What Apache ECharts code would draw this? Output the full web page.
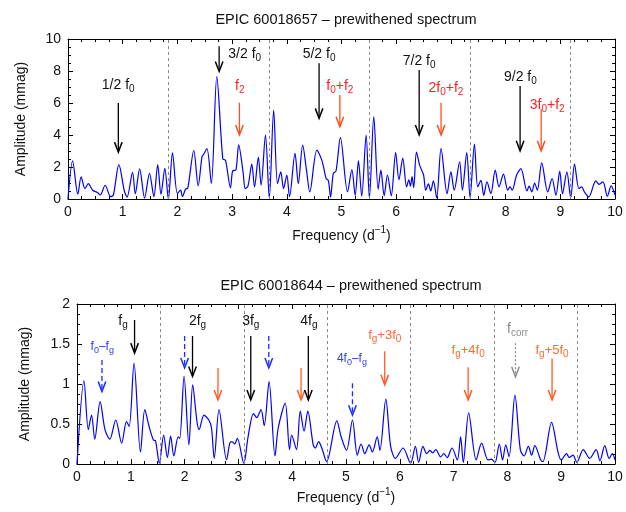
<!DOCTYPE html>
<html><head><meta charset="utf-8">
<script src="https://cdn.jsdelivr.net/npm/echarts@6/dist/echarts.min.js"></script>
<style>html,body{margin:0;padding:0;background:#fff}#c{width:626px;height:512px}</style>
</head><body><div id="c"></div>
<script>
// ---- data: upper panel (EPIC 60018657) ----
const topFreq = [0,0.084,0.18,0.24,0.31,0.37,0.45,0.54,0.59,0.68,0.78,0.83,0.93,1.03,1.08,1.18,1.23,1.31,1.40,1.49,1.57,1.64,1.70,1.77,1.835,1.91,2.00,2.06,2.09,2.15,2.19,2.30,2.38,2.45,2.48,2.54,2.62,2.72,2.83,2.88,2.97,3.01,3.07,3.12,3.20,3.24,3.29,3.36,3.41,3.48,3.53,3.61,3.68,3.76,3.83,3.89,3.94,4.00,4.05,4.15,4.21,4.29,4.36,4.42,4.55,4.64,4.72,4.76,4.80,4.85,4.90,4.98,5.11,5.19,5.25,5.31,5.37,5.45,5.51,5.59,5.67,5.72,5.78,5.84,5.91,5.99,6.05,6.12,6.19,6.23,6.26,6.29,6.32,6.37,6.43,6.50,6.54,6.59,6.63,6.68,6.74,6.82,6.93,7.00,7.06,7.16,7.21,7.29,7.35,7.43,7.49,7.55,7.60,7.66,7.73,7.81,7.88,7.96,8.04,8.08,8.12,8.20,8.28,8.39,8.43,8.48,8.53,8.58,8.66,8.77,8.85,8.92,8.99,9.04,9.12,9.19,9.26,9.34,9.39,9.44,9.52,9.65,9.71,9.78,9.86,9.93,10.0];
const topAmp  = [0,2.38,0.30,1.38,0.65,0.96,0.55,0.40,0.25,0.86,0.15,0.25,2.15,0.50,0.12,1.67,0.33,1.88,0.06,1.60,0.15,2.15,0.30,1.92,0.0,2.88,0.35,0.55,0.15,0.62,0.68,3.03,0.82,2.65,2.80,3.15,0.96,7.65,2.50,2.42,0.70,1.75,1.82,3.38,1.70,0.65,0.80,2.18,0.75,2.62,0.86,4.00,0.05,5.55,0.96,1.69,0.65,1.49,0.15,2.85,0.96,3.37,1.80,0.44,3.05,2.43,1.28,1.15,0.12,1.59,1.75,3.85,0.44,1.84,0.23,2.38,0.17,4.00,0.05,5.15,0.60,1.80,0.20,1.50,0.20,2.90,1.20,2.55,0.75,1.20,0.80,1.40,0.70,2.93,2.10,1.50,0.55,0.95,0.50,1.13,0.08,3.16,0.33,1.69,0.55,2.32,0.55,2.90,0.10,3.43,0.76,1.17,0.23,1.07,0.33,1.80,0.76,1.55,0.55,0.76,0.55,1.49,1.90,0.50,0.80,0.45,1.00,0.55,2.26,0.44,1.28,0.23,1.74,0.33,1.70,0.08,2.18,0.65,0.76,0.45,0.13,1.13,0.92,1.07,0.17,0.82,0.25];
const topHarmonics = [1.838, 3.676, 5.514, 7.352, 9.19];
// arrows: [freq, start amplitude, tip amplitude, kind]
const topArrows = [
  [0.92, 6.0, 2.93, 'k'], [2.763, 9.54, 7.97, 'k'], [3.134, 6.02, 4.0, 'r'],
  [4.59, 8.49, 5.04, 'k'], [4.97, 6.5, 4.52, 'r'], [6.42, 8.07, 4.0, 'k'],
  [6.82, 6.02, 4.0, 'r'], [8.265, 7.07, 3.01, 'k'], [8.65, 5.61, 3.01, 'r']
];
// labels: [freq, amplitude, rich text, kind]
const topLabels = [
  [0.918, 7.03, '{m|1/2 f}{s|0}', 'k'], [3.23, 9.01, '{m|3/2 f}{s|0}', 'k'],
  [3.14, 6.99, '{m|f}{s|2}', 'r'], [4.59, 9.01, '{m|5/2 f}{s|0}', 'k'],
  [4.97, 6.99, '{m|f}{s|0}{m|+f}{s|2}', 'r'], [6.42, 8.56, '{m|7/2 f}{s|0}', 'k'],
  [6.91, 6.86, '{m|2f}{s|0}{m|+f}{s|2}', 'r'], [8.27, 7.53, '{m|9/2 f}{s|0}', 'k'],
  [8.76, 5.82, '{m|3f}{s|0}{m|+f}{s|2}', 'r']
];
// ---- data: lower panel (EPIC 60018644) ----
const botFreq = [0,0.13,0.21,0.27,0.33,0.43,0.52,0.61,0.72,0.83,0.92,0.97,1.06,1.18,1.26,1.34,1.42,1.46,1.53,1.61,1.68,1.74,1.80,1.88,1.91,1.99,2.08,2.15,2.23,2.27,2.36,2.45,2.50,2.55,2.64,2.78,2.84,2.88,2.93,2.98,3.10,3.18,3.28,3.34,3.42,3.48,3.57,3.68,3.74,3.87,3.95,3.99,4.08,4.15,4.22,4.29,4.39,4.43,4.49,4.55,4.64,4.83,4.91,5.01,5.12,5.21,5.28,5.35,5.43,5.49,5.58,5.63,5.74,5.83,5.92,6.06,6.20,6.29,6.35,6.43,6.50,6.56,6.61,6.67,6.76,6.82,6.88,6.97,7.07,7.13,7.18,7.28,7.42,7.52,7.64,7.70,7.77,7.85,7.91,7.97,8.03,8.14,8.24,8.31,8.39,8.45,8.51,8.62,8.66,8.82,8.94,9.00,9.10,9.15,9.22,9.29,9.41,9.53,9.65,9.72,9.81,9.89,9.95,10.0];
const botAmp  = [0,1.04,0.43,0.61,0.31,0.78,0.43,0.31,0.55,0.26,0.53,0.47,1.26,0.15,0.68,0.47,0.30,0.29,0.01,0.36,0.08,0.35,0.10,0.34,0.32,1.10,0.24,0.99,0.53,0.43,0.61,0.55,0.45,0.07,0.68,0.05,0.26,0.28,0.25,0.32,0.01,0.34,0.63,0.58,0.68,0.48,1.03,0.10,0.45,0.76,0.18,0.36,0.18,0.66,0.41,0.66,0.24,0.20,0.28,0.20,0.03,0.54,0.34,0.17,0.55,0.11,0.25,0.13,0.24,0.15,0.34,0.17,0.81,0.22,0.07,0.20,0.01,0.22,0.02,0.22,0.13,0.17,0.14,0.18,0.09,0.13,0.08,0.20,0.05,0.34,0.02,0.64,0.05,0.26,0.05,0.06,0.02,0.25,0.05,0.24,0.09,0.86,0.18,0.10,0.22,0.11,0.23,0.05,0.03,0.52,0.15,0.05,0.13,0.08,0.11,0.02,0.18,0.07,0.18,0.04,0.23,0.07,0.13,0.05];
const botHarmonics = [1.55, 3.10, 4.65, 6.20, 7.75, 9.30];
const botArrows = [
  [0.464, 1.30, 0.906, 'b'], [1.07, 1.80, 1.386, 'k'], [2.0, 1.60, 1.20, 'b'],
  [2.147, 1.60, 1.094, 'k'], [2.62, 1.20, 0.80, 'o'], [3.23, 1.60, 0.80, 'k'],
  [3.565, 1.60, 1.20, 'b'], [4.165, 1.20, 0.80, 'o'], [4.30, 1.60, 0.80, 'k'],
  [5.12, 1.01, 0.61, 'b'], [5.72, 1.41, 0.99, 'o'], [7.27, 1.21, 0.80, 'o'],
  [8.15, 1.51, 1.09, 'g'], [8.83, 1.32, 0.80, 'o']
];
const botLabels = [
  [0.47, 1.45, '{m|f}{s|0}{m|\u2013f}{s|g}', 'b'], [0.856, 1.77, '{m|f}{s|g}', 'k'],
  [2.24, 1.77, '{m|2f}{s|g}', 'k'], [3.23, 1.77, '{m|3f}{s|g}', 'k'],
  [4.31, 1.77, '{m|4f}{s|g}', 'k'], [5.11, 1.30, '{m|4f}{s|0}{m|\u2013f}{s|g}', 'b'],
  [5.72, 1.60, '{m|f}{s|g}{m|+3f}{s|0}', 'o'], [7.27, 1.41, '{m|f}{s|g}{m|+4f}{s|0}', 'o'],
  [8.19, 1.67, '{m|f}{s|corr}', 'g'], [8.83, 1.41, '{m|f}{s|g}{m|+5f}{s|0}', 'o']
];

const FONT = '"Liberation Sans", Arial, Helvetica, sans-serif';
const ARROW = {
  k: {color: '#000000', dash: null},
  r: {color: '#ff4d1f', dash: null},
  o: {color: '#ff5a26', dash: null},
  b: {color: '#1a2eff', dash: [5, 3]},
  g: {color: '#8c8c8c', dash: [2, 2]}
};
const LABEL = {
  k: {color: '#111111', size: 14},
  r: {color: '#ff1f1f', size: 14},
  o: {color: '#ff6a33', size: 13},
  b: {color: '#2a3cff', size: 12},
  g: {color: '#8c8c8c', size: 14}
};

function richFor(st) {
  const s = st.size, ss = Math.round(s * 0.74);
  return {
    m: {fontSize: s, lineHeight: s + 2, verticalAlign: 'top', fill: st.color, fontFamily: FONT},
    s: {fontSize: ss, lineHeight: ss + 2, verticalAlign: 'top', padding: [Math.round(s * 0.45), 0, 0, 0], fill: st.color, fontFamily: FONT}
  };
}

function arrowSeries(idx, arrows) {
  return {
    type: 'custom', xAxisIndex: idx, yAxisIndex: idx, silent: true, z: 6, clip: false,
    data: arrows.map(a => [a[0], a[1], a[2]]),
    encode: {x: 0, y: [1, 2]},
    renderItem: function (params, api) {
      const a = arrows[params.dataIndex];
      const st = ARROW[a[3]];
      const p1 = api.coord([a[0], a[1]]);
      const p2 = api.coord([a[0], a[2]]);
      const hw = 3.8, hl = 10;
      return {type: 'group', children: [
        {type: 'line', shape: {x1: p1[0], y1: p1[1], x2: p2[0], y2: p2[1] - 1},
         style: {stroke: st.color, lineWidth: 1.3, lineDash: st.dash}},
        {type: 'polyline', shape: {points: [[p2[0] - hw, p2[1] - hl], [p2[0], p2[1]], [p2[0] + hw, p2[1] - hl]]},
         style: {stroke: st.color, lineWidth: 1.5, fill: null}}
      ]};
    }
  };
}

function labelSeries(idx, labels) {
  return {
    type: 'custom', xAxisIndex: idx, yAxisIndex: idx, silent: true, z: 7, clip: false,
    data: labels.map(l => [l[0], l[1]]),
    encode: {x: 0, y: 1},
    renderItem: function (params, api) {
      const l = labels[params.dataIndex];
      const st = LABEL[l[3]];
      const p = api.coord([l[0], l[1]]);
      return {type: 'text', x: p[0], y: p[1] - (st.size + 2) / 2,
        style: {text: l[2], align: 'center', verticalAlign: 'top', rich: richFor(st), fill: st.color, font: st.size + 'px ' + FONT}};
    }
  };
}

function xAxes(gi) {
  const common = {type: 'value', gridIndex: gi, min: 0, max: 10, interval: 1,
    axisLine: {show: true, onZero: false, lineStyle: {color: '#000', width: 1}},
    axisTick: {show: true, inside: true, length: 5, lineStyle: {color: '#000'}},
    minorTick: {show: true, splitNumber: 4, length: 3, lineStyle: {color: '#000'}},
    splitLine: {show: false}};
  return [
    Object.assign({}, common, {position: 'bottom',
      axisLabel: {show: true, color: '#111', fontSize: 14, fontFamily: FONT, margin: 6},
      name: '{m|Frequency (d}{p|\u22121}{m|)}', nameLocation: 'middle', nameGap: gi === 0 ? 26 : 23,
      nameTextStyle: {rich: {
        m: {fontSize: 14, lineHeight: 16, verticalAlign: 'top', padding: [4, 0, 0, 0], color: '#111', fontFamily: FONT},
        p: {fontSize: 10, lineHeight: 12, verticalAlign: 'top', color: '#111', fontFamily: FONT}}}}),
    Object.assign({}, common, {position: 'top', axisLabel: {show: false}})
  ];
}

function yAxes(gi, max, interval) {
  const common = {type: 'value', gridIndex: gi, min: 0, max: max, interval: interval,
    axisLine: {show: true, onZero: false, lineStyle: {color: '#000', width: 1}},
    axisTick: {show: true, inside: true, length: 5, lineStyle: {color: '#000'}},
    minorTick: {show: true, splitNumber: 4, length: 3, lineStyle: {color: '#000'}},
    splitLine: {show: false}};
  return [
    Object.assign({}, common, {position: 'left',
      axisLabel: {show: true, color: '#111', fontSize: 14, fontFamily: FONT, margin: 7},
      name: 'Amplitude (mmag)', nameLocation: 'middle', nameGap: gi === 0 ? 40 : 45,
      nameTextStyle: {fontSize: 14, color: '#111', fontFamily: FONT}}),
    Object.assign({}, common, {position: 'right', axisLabel: {show: false}})
  ];
}

function spectrum(idx, freq, amp, harm) {
  return {
    type: 'line', xAxisIndex: idx, yAxisIndex: idx, showSymbol: false, smooth: 0.3,
    silent: true, z: 4,
    lineStyle: {color: '#0000ff', width: 1.2},
    data: freq.map((f, i) => [f, amp[i]]),
    markLine: {silent: true, symbol: ['none', 'none'], animation: false,
      label: {show: false},
      lineStyle: {color: '#8a8a8a', type: [3, 3], width: 1},
      data: harm.map(h => ({xAxis: h}))}
  };
}

const chart = echarts.init(document.getElementById('c'), null, {renderer: 'canvas'});
chart.setOption({
  animation: false,
  backgroundColor: '#ffffff',
  title: [
    {text: 'EPIC 60018657 \u2013 prewithened spectrum', left: 341, top: 7, textAlign: 'center',
     textStyle: {fontSize: 14.5, fontWeight: 'normal', color: '#111', fontFamily: FONT}},
    {text: 'EPIC 60018644 \u2013 prewithened spectrum', left: 346, top: 273, textAlign: 'center',
     textStyle: {fontSize: 14.5, fontWeight: 'normal', color: '#111', fontFamily: FONT}}
  ],
  grid: [
    {left: 68, right: 11, top: 39, height: 160},
    {left: 77, right: 11, top: 304, height: 160}
  ],
  xAxis: [].concat(xAxes(0), xAxes(1)),
  yAxis: [].concat(yAxes(0, 10, 2), yAxes(1, 2, 0.5)),
  series: [
    spectrum(0, topFreq, topAmp, topHarmonics),
    spectrum(2, botFreq, botAmp, botHarmonics),
    arrowSeries(0, topArrows), labelSeries(0, topLabels),
    arrowSeries(2, botArrows), labelSeries(2, botLabels)
  ]
});
</script></body></html>
